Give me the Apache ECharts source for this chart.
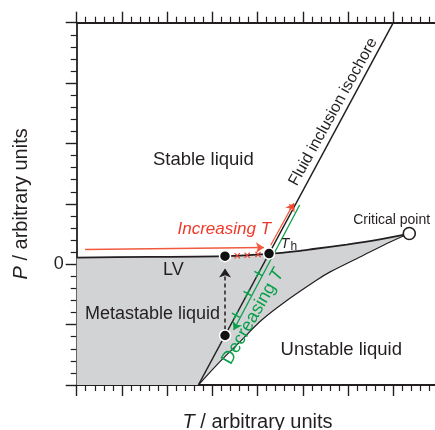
<!DOCTYPE html>
<html><head><meta charset="utf-8">
<script src="https://cdn.jsdelivr.net/npm/echarts@6/dist/echarts.min.js"></script>
<style>html,body{margin:0;padding:0;background:#fff}#c{width:435px;height:430px}</style>
</head><body><div id="c"></div>
<script>
// ---- data (arbitrary units) ----
const xTicks = [0, 8, 1];          // min, max, interval
const yTicks = [-2, 4, 1];
const lvCurve = [[0,0.111],[1.621,0.121],[3.279,0.133],[4.258,0.172],[4.937,0.222],[5.231,0.252],[5.969,0.325],[6.706,0.410],[7.221,0.485],[7.354,0.509]];
const spinodal = [[2.69,-2.0],[3.126,-1.645],[3.569,-1.314],[4.084,-0.928],[4.602,-0.624],[5.301,-0.265],[5.604,-0.127],[6.341,0.149],[6.931,0.369],[7.354,0.509]];
const isochore = [[2.69,-2.0],[7.0,4.0]];
const criticalPoint = [[7.354,0.509]];
const statePoints = [[3.279,0.133],[4.253,0.176],[3.28,-1.18]];
const coolingArrow = [[3.28,-1.08],[3.28,-0.07]];
const heatingArrow = [[0.185,0.244],[4.14,0.277]];
const heatingUp = [[4.29,0.315],[4.80,1.01]];
const coolingDown = [[4.93,0.98],[3.47,-1.09]];
const redMarks = [[3.55,0.141],[3.77,0.150],[4.01,0.160],[4.76,0.95]];
const greenMarks = [[4.016,-0.154],[3.777,-0.486],[3.519,-0.845]];
const labels = [
  ['Stable liquid', 2.80, 1.723],
  ['Fluid inclusion isochore', 5.673, 2.523],
  ['Critical point', 6.964, 0.729],
  ['Th', 4.694, 0.331],
  ['Increasing T', 3.263, 0.58],
  ['LV', 2.136, -0.091],
  ['Metastable liquid', 1.676, -0.828],
  ['Unstable liquid', 5.85, -1.425],
  ['Decreasing T', 3.898, -0.87]
];

// ---- styles ----
const FONT = 'Liberation Sans, Arial, Helvetica, sans-serif';
const INK = '#231f20', RED = '#ee3a2a', RED2 = '#f15a3e', GREEN = '#0aa04a', GRAY = '#d2d3d5';
const region = [[xTicks[0], yTicks[0]]].concat(lvCurve, spinodal.slice().reverse().slice(1));

const labelStyle = {
  'Stable liquid': {fontSize: 18.5},
  'Fluid inclusion isochore': {fontSize: 16, rotate: 61},
  'Critical point': {fontSize: 14},
  'Th': {formatter: '{t|T}{h|h}', rich: {t: {fontStyle: 'italic', fontSize: 14, fontFamily: FONT, color: INK}, h: {fontSize: 12, fontFamily: FONT, color: INK, padding: [5, 0, 0, 1]}}},
  'Increasing T': {fontSize: 17, fontStyle: 'italic', color: RED},
  'LV': {fontSize: 18},
  'Metastable liquid': {fontSize: 18},
  'Unstable liquid': {fontSize: 18.5},
  'Decreasing T': {rotate: 60, formatter: '{a|Decreasing }{b|T}', rich: {a: {fontSize: 18, fontFamily: FONT, color: GREEN}, b: {fontSize: 18, fontStyle: 'italic', fontFamily: FONT, color: GREEN}}}
};

const axisCommon = {
  type: 'value', min: xTicks[0], max: xTicks[1], interval: xTicks[2],
  axisLine: {show: true, onZero: false, lineStyle: {color: INK, width: 1.8}},
  axisTick: {show: true, inside: false, length: 11, lineStyle: {color: INK, width: 1.4}},
  minorTick: {show: true, splitNumber: 5, length: 6, lineStyle: {color: INK, width: 1.2}},
  splitLine: {show: false}, minorSplitLine: {show: false},
  axisLabel: {show: false}
};
const X_PATH = 'path://M0,1.2L1.2,0L5,3.8L8.8,0L10,1.2L6.2,5L10,8.8L8.8,10L5,6.2L1.2,10L0,8.8L3.8,5Z';
const PLUS_PATH = 'path://M4.2,0H5.8V4.2H10V5.8H5.8V10H4.2V5.8H0V4.2H4.2Z';

const chart = echarts.init(document.getElementById('c'), null, {renderer: 'canvas'});
chart.setOption({
  animation: false,
  grid: {left: 76.7, top: 22.7, right: -3.5, bottom: 45, containLabel: false, outerBoundsMode: 'none'},
  xAxis: [
    Object.assign({}, axisCommon, {position: 'bottom',
      name: '{i|T} / arbitrary units', nameLocation: 'middle', nameGap: 27,
      nameTextStyle: {fontSize: 20, color: INK, fontFamily: FONT, rich: {i: {fontStyle: 'italic', fontSize: 20, fontFamily: FONT, color: INK}}}}),
    Object.assign({}, axisCommon, {position: 'top'})
  ],
  yAxis: [Object.assign({}, axisCommon, {
    min: yTicks[0], max: yTicks[1], interval: yTicks[2], position: 'left',
    axisLabel: {show: true, margin: 13, fontSize: 18, color: INK, fontFamily: FONT, formatter: v => (v === 0 ? '0' : '')},
    name: '{i|P} / arbitrary units', nameLocation: 'middle', nameGap: 45, nameRotate: 90,
    nameTextStyle: {fontSize: 20, color: INK, fontFamily: FONT, rich: {i: {fontStyle: 'italic', fontSize: 20, fontFamily: FONT, color: INK}}}
  })],
  series: [
    {type: 'custom', z: 1, silent: true, data: [[0, 0]], clip: true,
      renderItem: (params, api) => ({type: 'polygon', shape: {points: region.map(p => api.coord(p))}, style: {fill: GRAY}})},
    {type: 'line', z: 3, data: lvCurve, showSymbol: false, symbol: 'none', smooth: 0.25, lineStyle: {color: INK, width: 1.8}},
    {type: 'line', z: 3, data: spinodal, showSymbol: false, symbol: 'none', smooth: 0.3, lineStyle: {color: INK, width: 1.2}},
    {type: 'line', z: 3, data: isochore, showSymbol: false, symbol: 'none', lineStyle: {color: INK, width: 1.5}},
    {type: 'lines', coordinateSystem: 'cartesian2d', z: 4, symbol: ['none', 'arrow'], symbolSize: [0, 9],
      data: [{coords: coolingArrow}], lineStyle: {color: INK, width: 1.5, type: [4, 3], opacity: 1}},
    {type: 'lines', coordinateSystem: 'cartesian2d', z: 4, symbol: ['none', 'arrow'], symbolSize: [0, 8],
      data: [{coords: heatingArrow}, {coords: heatingUp}], lineStyle: {color: RED2, width: 1.3, opacity: 1}},
    {type: 'lines', coordinateSystem: 'cartesian2d', z: 4, symbol: ['none', 'arrow'], symbolSize: [0, 8],
      data: [{coords: coolingDown}], lineStyle: {color: GREEN, width: 1.3, opacity: 1}},
    {type: 'scatter', z: 5, data: redMarks, symbol: X_PATH, symbolSize: 6, itemStyle: {color: RED, opacity: 1}},
    {type: 'scatter', z: 5, data: greenMarks, symbol: PLUS_PATH, symbolSize: 9, symbolRotate: 61.7, itemStyle: {color: GREEN, opacity: 1}},
    {type: 'scatter', z: 6, data: statePoints, symbol: 'circle', symbolSize: 11, itemStyle: {color: '#111', borderColor: '#fff', borderWidth: 1.5, opacity: 1}},
    {type: 'scatter', z: 6, data: criticalPoint, symbol: 'circle', symbolSize: 12, itemStyle: {color: '#fff', borderColor: INK, borderWidth: 1.6, opacity: 1}},
    {type: 'scatter', z: 7, symbolSize: 0, silent: true, itemStyle: {opacity: 1},
      data: labels.map(([t, x, y]) => ({value: [x, y], label: Object.assign({show: true, position: 'inside', formatter: t, color: INK, fontFamily: FONT, align: 'center', verticalAlign: 'middle'}, labelStyle[t])}))}
  ]
});
</script></body></html>
